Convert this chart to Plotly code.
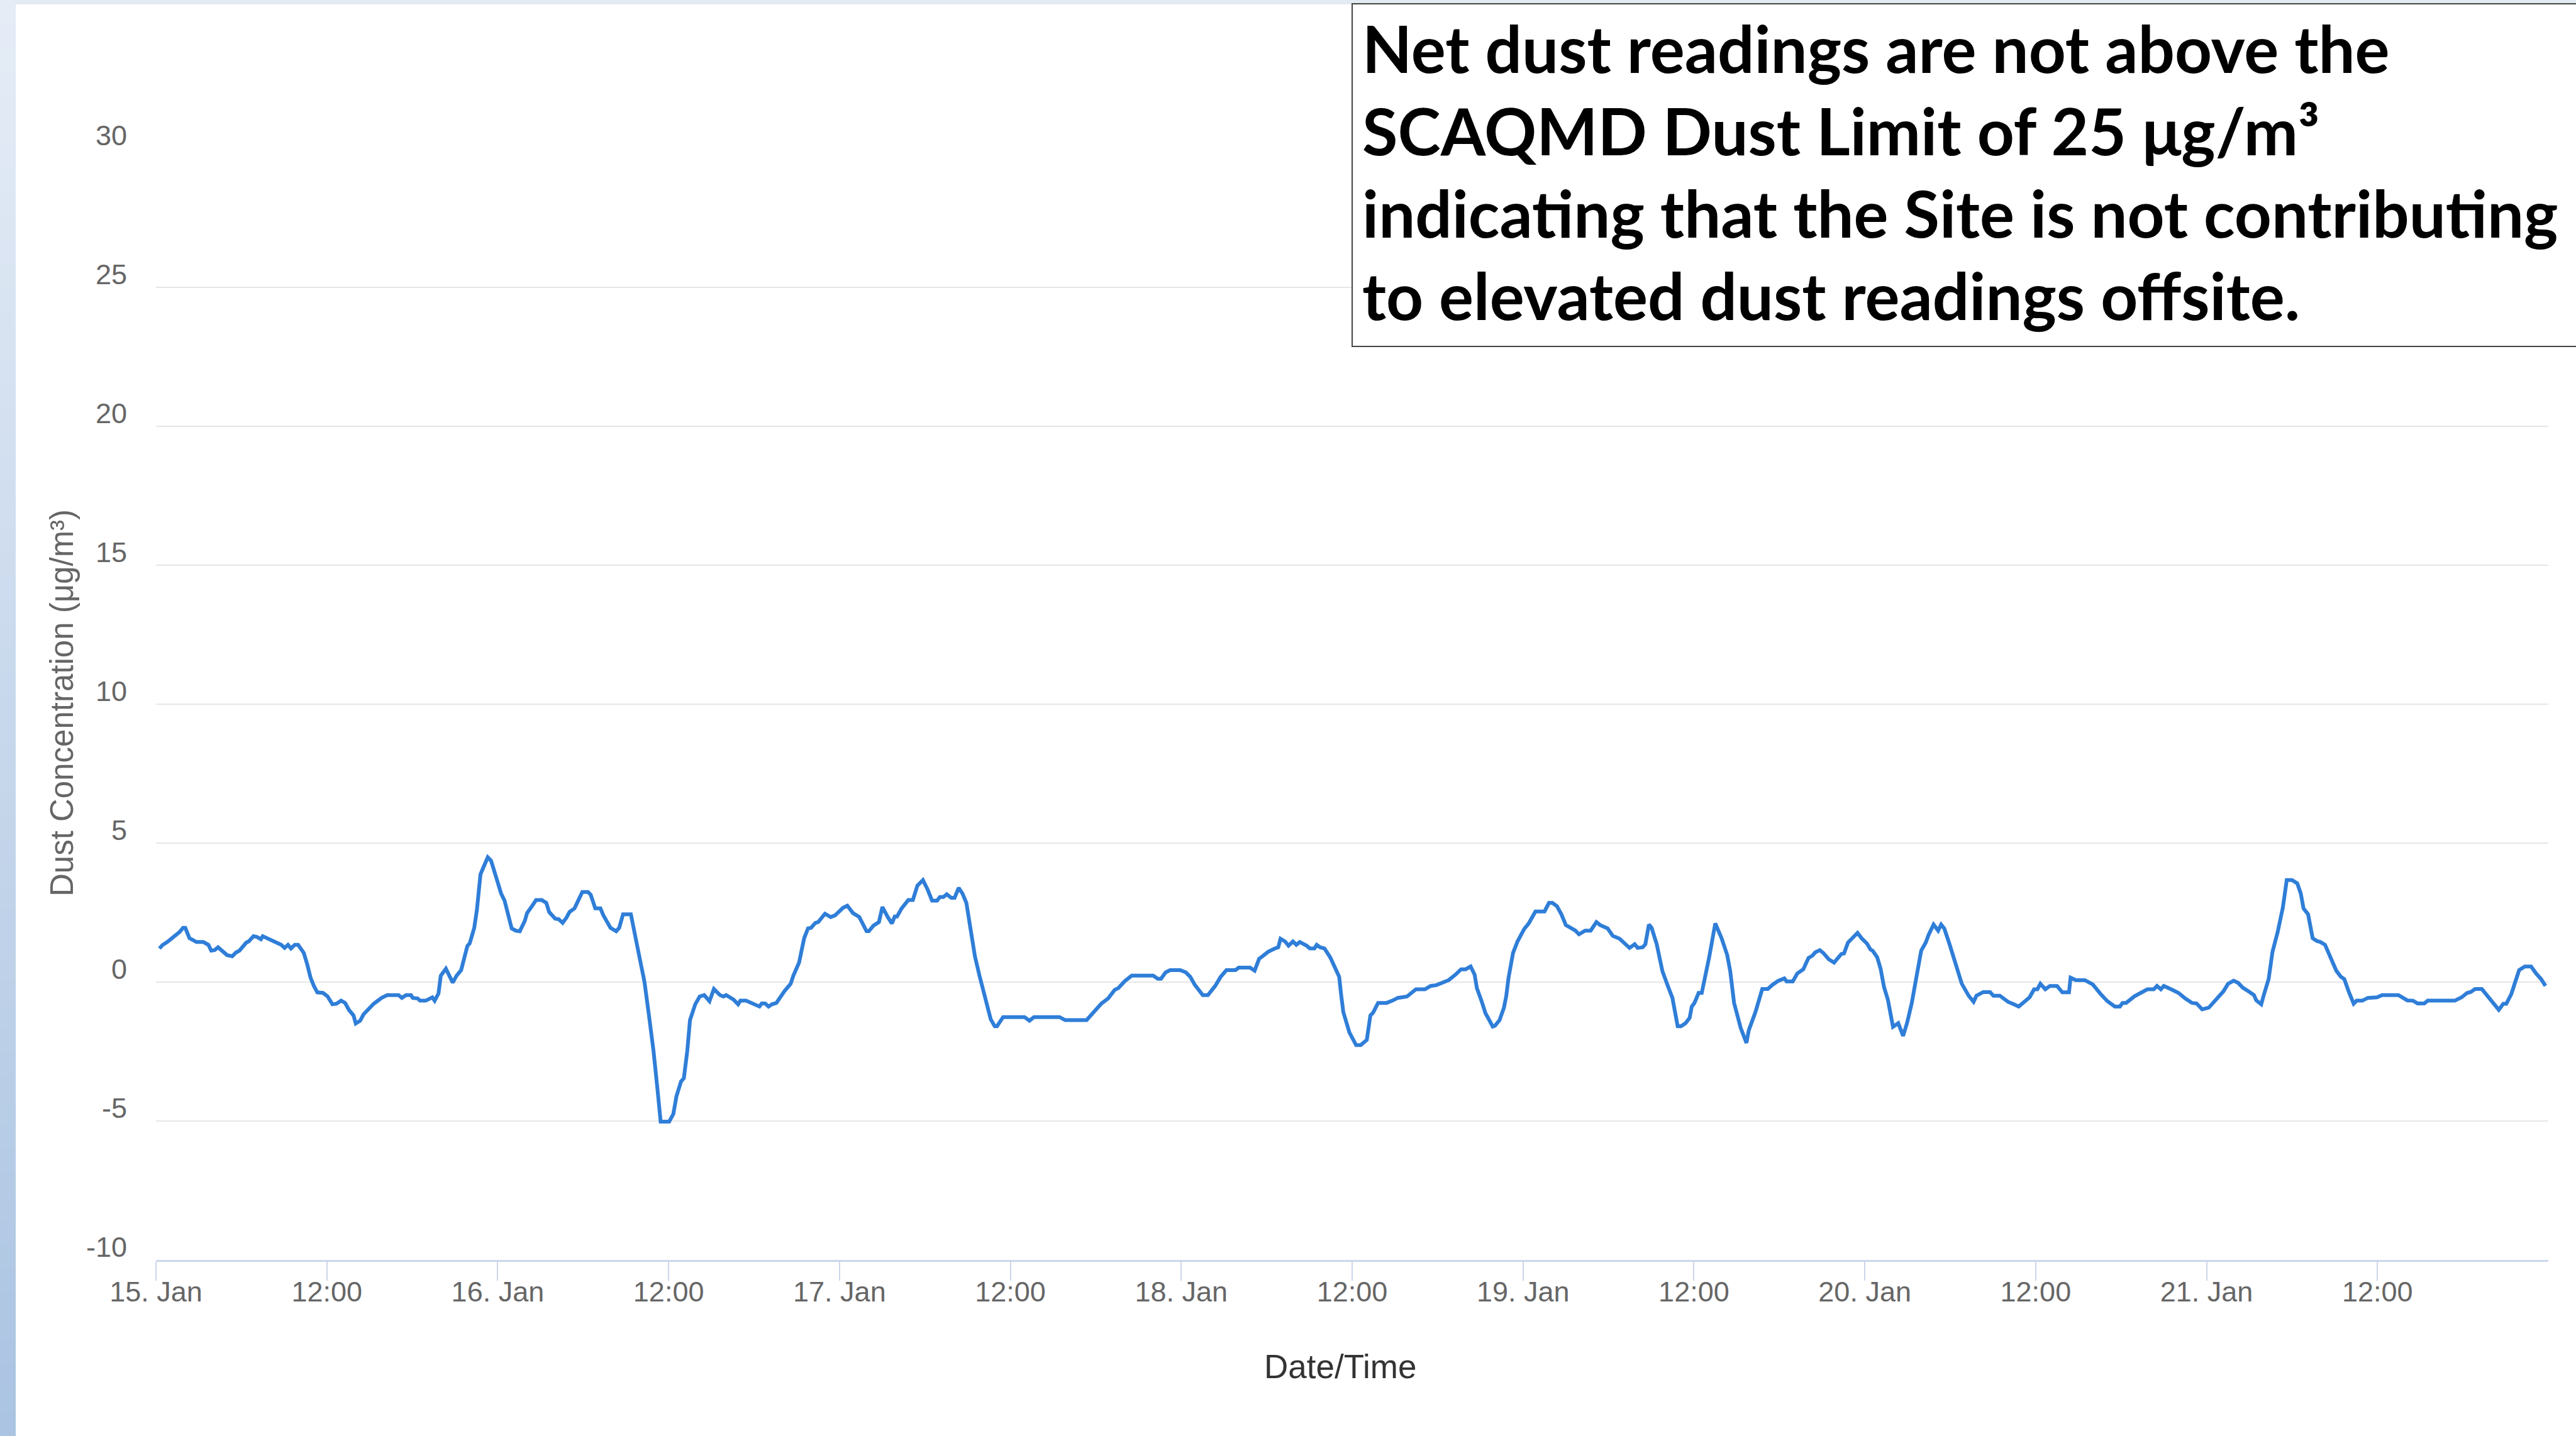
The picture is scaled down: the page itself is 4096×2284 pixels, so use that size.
import datetime as dt
import plotly.graph_objects as go

# ---------------- data (hours into each day, net dust value) ----------------
hours_15 = [0.24,0.48,0.79,1.11,1.39,1.66,1.90,2.06,2.35,2.61,2.85,3.33,3.68,3.88,4.12,4.36,4.60,4.99,5.36,5.63,
            5.86,6.34,6.50,6.85,7.10,7.37,7.50,7.77,8.09,8.48,8.80,9.03,9.27,9.48,9.75,9.98,10.38,10.62,10.86,11.09,
            11.33,11.73,12.04,12.39,12.68,13.00,13.28,13.55,13.87,14.03,14.34,14.58,14.98,15.29,15.53,15.85,16.24,17.04,17.27,17.56,
            17.91,18.03,18.38,18.54,18.94,19.41,19.57,19.84,20.00,20.36,20.84,21.11,21.43,21.63,21.87,22.03,22.35,22.54,22.79,23.30,
            23.53,23.85]
values_15 = [1.21,1.34,1.44,1.58,1.66,1.80,1.95,1.95,1.58,1.52,1.44,1.44,1.34,1.13,1.15,1.25,1.13,0.97,0.93,1.07,
             1.13,1.42,1.46,1.65,1.62,1.54,1.65,1.58,1.52,1.42,1.34,1.23,1.34,1.21,1.34,1.34,1.05,0.64,0.15,-0.14,
             -0.37,-0.39,-0.51,-0.80,-0.78,-0.67,-0.75,-1.00,-1.20,-1.49,-1.39,-1.16,-0.93,-0.78,-0.69,-0.57,-0.47,-0.47,-0.57,-0.47,
             -0.47,-0.57,-0.59,-0.67,-0.67,-0.55,-0.67,-0.41,0.23,0.48,-0.02,0.23,0.43,0.80,1.30,1.39,1.95,2.61,3.88,4.49,
             4.37,3.84]

hours_16 = [0.05,0.24,0.48,0.98,1.27,1.55,1.90,2.06,2.35,2.69,3.09,3.41,3.61,4.04,4.28,4.56,4.83,5.04,5.39,5.67,
            5.94,6.34,6.53,6.85,7.21,7.42,7.92,8.32,8.53,8.80,9.35,9.83,10.30,10.62,10.94,11.22,11.44,12.04,12.33,12.55,
            12.87,13.07,13.31,13.50,13.87,14.18,14.50,14.87,15.18,15.61,15.85,16.04,16.56,16.88,17.04,17.43,17.75,17.99,18.38,18.54,
            18.78,19.02,19.26,19.57,19.81,20.13,20.57,20.76,21.16,21.32,21.52,21.79,22.00,22.31,22.50,22.98,23.38,23.69]
values_16 = [3.50,3.18,2.93,1.93,1.85,1.83,2.20,2.48,2.69,2.95,2.95,2.85,2.52,2.28,2.26,2.13,2.32,2.52,2.65,2.93,
             3.24,3.24,3.14,2.65,2.65,2.40,1.95,1.83,1.95,2.44,2.44,1.21,0.02,-1.20,-2.48,-3.87,-5.02,-5.02,-4.75,-4.11,
             -3.58,-3.46,-2.48,-1.37,-0.80,-0.52,-0.47,-0.69,-0.25,-0.47,-0.52,-0.47,-0.63,-0.80,-0.67,-0.67,-0.74,-0.77,-0.88,-0.77,
             -0.77,-0.88,-0.80,-0.75,-0.55,-0.33,-0.06,0.23,0.70,1.13,1.58,1.93,1.95,2.13,2.16,2.46,2.34,2.40]

hours_17 = [0.24,0.55,0.95,1.39,1.90,2.06,2.38,2.77,3.01,3.41,3.68,3.88,4.04,4.36,4.83,5.15,5.47,5.86,6.18,6.50,
            6.85,7.05,7.29,7.53,7.85,8.08,8.37,8.64,8.91,9.19,9.51,9.83,10.06,10.38,10.62,10.90,11.06,11.49,12.99,13.34,
            13.66,15.45,15.85,17.35,17.75,18.38,18.86,19.33,19.57,20.05,20.52,22.03,22.35,22.58,22.90,23.22,23.93]
values_17 = [2.67,2.75,2.48,2.34,1.83,1.83,2.03,2.16,2.70,2.32,2.11,2.36,2.36,2.65,2.95,2.95,3.47,3.67,3.34,2.93,
             2.93,3.06,3.06,3.16,3.03,3.03,3.39,3.18,2.85,1.95,0.93,0.23,-0.26,-0.96,-1.34,-1.59,-1.59,-1.26,-1.26,-1.39,
             -1.26,-1.26,-1.37,-1.37,-1.15,-0.78,-0.59,-0.28,-0.22,0.04,0.23,0.23,0.12,0.12,0.35,0.43,0.43]

hours_18 = [0.32,0.63,0.95,1.51,1.87,2.38,2.77,3.17,3.80,4.04,4.83,5.15,5.47,5.71,6.10,6.58,6.81,6.97,7.29,7.53,
            7.84,8.08,8.32,8.80,9.03,9.35,9.51,9.75,10.06,10.46,10.86,11.09,11.22,11.38,11.81,12.28,12.60,13.03,13.28,13.47,
            13.82,14.42,14.82,15.21,15.85,16.16,16.48,17.11,17.51,17.91,18.30,18.78,19.26,19.65,19.97,20.32,20.60,20.76,21.08,21.36,
            21.63,21.87,22.03,22.35,22.66,22.82,22.98,23.30,23.61]
values_18 = [0.35,0.19,-0.10,-0.47,-0.47,-0.14,0.19,0.43,0.43,0.52,0.52,0.41,0.84,0.93,1.09,1.21,1.25,1.56,1.46,1.31,
             1.46,1.34,1.44,1.31,1.21,1.21,1.34,1.25,1.21,0.89,0.43,0.19,-0.43,-1.08,-1.82,-2.27,-2.27,-2.08,-1.20,-1.10,
             -0.75,-0.75,-0.67,-0.57,-0.52,-0.39,-0.26,-0.26,-0.14,-0.11,-0.02,0.07,0.27,0.46,0.46,0.56,0.27,-0.22,-0.67,-1.12,
             -1.37,-1.60,-1.57,-1.37,-0.92,-0.51,0.15,1.05,1.46]

hours_19 = [0.08,0.40,0.87,1.51,1.82,2.06,2.38,2.69,3.01,3.68,3.93,4.36,4.75,5.15,5.42,5.94,6.31,6.78,7.21,7.48,
            7.84,8.05,8.40,8.59,8.84,9.03,9.38,9.79,10.17,10.49,10.86,11.09,11.41,11.70,11.85,12.04,12.33,12.55,13.07,13.50,
            13.94,14.34,14.55,14.82,15.29,15.69,15.85,16.32,16.80,17.19,17.51,17.91,18.35,18.51,18.94,19.26,19.68,20.05,20.32,20.52,
            20.84,21.08,21.47,21.84,22.35,22.54,22.82,23.06,23.49,23.77]
values_19 = [1.91,2.11,2.54,2.54,2.85,2.85,2.73,2.44,2.05,1.85,1.72,1.85,1.85,2.16,2.05,1.93,1.66,1.56,1.34,1.23,
             1.36,1.23,1.25,1.36,2.07,1.95,1.38,0.39,-0.14,-0.57,-1.59,-1.59,-1.48,-1.29,-0.88,-0.75,-0.39,-0.39,0.89,2.11,
             1.58,0.97,0.39,-0.75,-1.66,-2.19,-1.74,-1.08,-0.25,-0.25,-0.10,0.04,0.13,0.02,0.02,0.31,0.46,0.87,0.95,1.07,
             1.15,1.05,0.82,0.70,1.01,1.03,1.42,1.56,1.77,1.58]

hours_20 = [0.16,0.40,0.55,0.87,1.11,1.35,1.62,1.98,2.35,2.69,2.98,3.30,3.61,3.96,4.28,4.48,4.83,5.15,5.36,5.58,
            5.94,6.34,6.81,7.29,7.64,7.84,8.32,8.80,9.03,9.48,10.06,10.46,10.81,11.25,11.57,11.89,12.12,12.33,12.68,13.00,
            13.50,13.87,14.34,14.45,14.82,15.45,16.00,16.56,17.04,17.56,17.91,18.10,18.35,18.94,19.41,19.84,20.29,20.52,20.79,21.00,
            21.47,22.03,22.50,22.98,23.30,23.69]
values_20 = [1.38,1.17,1.13,0.89,0.48,-0.18,-0.63,-1.61,-1.48,-1.94,-1.45,-0.75,0.19,1.13,1.42,1.70,2.07,1.85,2.07,1.93,
             1.38,0.68,-0.06,-0.49,-0.71,-0.49,-0.36,-0.36,-0.49,-0.49,-0.71,-0.80,-0.88,-0.69,-0.55,-0.26,-0.26,-0.06,-0.26,-0.14,
             -0.14,-0.37,-0.37,0.16,0.07,0.07,-0.08,-0.43,-0.69,-0.88,-0.88,-0.75,-0.75,-0.51,-0.37,-0.26,-0.26,-0.14,-0.26,-0.14,
             -0.25,-0.39,-0.59,-0.75,-0.77,-0.98]

hours_21 = [0.16,0.63,1.19,1.51,1.90,2.22,2.54,2.93,3.33,3.49,3.84,4.04,4.36,4.63,4.99,5.36,5.63,6.00,6.37,6.62,
            6.81,7.13,7.45,7.73,8.00,8.32,8.72,9.11,9.43,9.67,9.98,10.33,10.54,10.94,11.33,11.97,12.33,13.47,14.10,14.50,
            14.82,15.29,15.53,17.43,17.91,18.30,18.54,18.86,19.33,19.97,20.52,20.84,21.05,21.40,21.95,22.35,22.79,23.14,23.49,23.80]
values_21 = [-0.92,-0.67,-0.33,-0.06,0.05,-0.03,-0.20,-0.33,-0.47,-0.66,-0.80,-0.43,0.11,1.09,1.79,2.69,3.67,3.67,3.55,3.18,
             2.65,2.44,1.58,1.48,1.44,1.34,0.84,0.41,0.19,0.11,-0.34,-0.78,-0.67,-0.67,-0.57,-0.55,-0.47,-0.47,-0.66,-0.67,
             -0.77,-0.77,-0.67,-0.67,-0.55,-0.39,-0.36,-0.25,-0.25,-0.67,-1.00,-0.78,-0.78,-0.43,0.43,0.56,0.56,0.31,0.11,-0.14]

day_numbers = [15, 16, 17, 18, 19, 20, 21]
x_tick_labels = ["15. Jan", "12:00", "16. Jan", "12:00", "17. Jan", "12:00", "18. Jan", "12:00",
                 "19. Jan", "12:00", "20. Jan", "12:00", "21. Jan", "12:00"]
y_tick_values = [-10, -5, 0, 5, 10, 15, 20, 25, 30]
y_tick_labels = ["-10", "-5", "0", "5", "10", "15", "20", "25", "30"]

y_title = "Dust Concentration (μg/m³)"
x_title = "Date/Time"
note_lines = ["Net dust readings are not above the",
              "SCAQMD Dust Limit of 25 μg/m³",
              "indicating that the Site is not contributing",
              "to elevated dust readings offsite."]

# ---------------- build series ----------------
per_day = [(hours_15, values_15), (hours_16, values_16), (hours_17, values_17), (hours_18, values_18),
           (hours_19, values_19), (hours_20, values_20), (hours_21, values_21)]
times, vals = [], []
for d, (hs, vs) in zip(day_numbers, per_day):
    for h, v in zip(hs, vs):
        times.append(dt.datetime(2021, 1, d) + dt.timedelta(hours=h))
        vals.append(v)

t0 = dt.datetime(2021, 1, 15)
tick_times = [t0 + dt.timedelta(hours=12 * i) for i in range(len(x_tick_labels))]

# ---------------- geometry (px in 4096x2284) ----------------
W, H = 4096, 2284
L, R, T, B = 248, 44, 236, 280
PW, PH = W - L - R, H - T - B

def px(x):
    return (x - L) / PW

def py(y):
    return (H - B - y) / PH

fig = go.Figure()
fig.add_trace(go.Scatter(x=times, y=vals, mode="lines",
                         line=dict(color="#2f7ed8", width=6), hoverinfo="skip", showlegend=False))

shapes = []
# left gradient strip
n = 60
c_top = (229, 236, 246)
c_bot = (171, 196, 226)
for i in range(n):
    f = i / (n - 1)
    col = tuple(round(c_top[k] + (c_bot[k] - c_top[k]) * f) for k in range(3))
    shapes.append(dict(type="rect", xref="paper", yref="paper",
                       x0=px(-2), x1=px(25), y0=py(H * (i + 1) / n + 1), y1=py(H * i / n),
                       fillcolor="rgb(%d,%d,%d)" % col, line=dict(width=0), layer="above"))
# top band
shapes.append(dict(type="rect", xref="paper", yref="paper", x0=px(25), x1=px(W + 5), y0=py(7), y1=py(-2),
                   fillcolor="#e3eaf4", line=dict(width=0), layer="above"))
# text box
shapes.append(dict(type="rect", xref="paper", yref="paper", x0=px(2150), x1=px(W + 20), y0=py(551), y1=py(6),
                   fillcolor="white", line=dict(color="#444444", width=2), layer="above"))

annotations = []
annotations.append(dict(text=y_title, xref="paper", yref="paper", x=px(98), y=py(1118), textangle=-90,
                        showarrow=False, xanchor="center", yanchor="middle",
                        font=dict(family="Liberation Sans, Arial, sans-serif", size=51, color="#666666")))
annotations.append(dict(text=x_title, xref="paper", yref="paper", x=px(2131), y=py(2173),
                        showarrow=False, xanchor="center", yanchor="middle",
                        font=dict(family="Liberation Sans, Arial, sans-serif", size=53, color="#333333")))
line_centers = [76, 207, 338, 469]
for txt, yc in zip(note_lines, line_centers):
    annotations.append(dict(text="<b>%s</b>" % txt, xref="paper", yref="paper", x=px(2164), y=py(yc),
                            showarrow=False, xanchor="left", yanchor="middle",
                            font=dict(family="Lato, sans-serif", size=103, color="#000000")))

fig.update_layout(
    width=W, height=H,
    margin=dict(l=L, r=R, t=T, b=B, pad=0),
    paper_bgcolor="white", plot_bgcolor="white",
    showlegend=False,
    shapes=shapes, annotations=annotations,
    xaxis=dict(type="date", range=[t0, t0 + dt.timedelta(days=7)],
               tickmode="array", tickvals=tick_times, ticktext=x_tick_labels,
               ticks="outside", ticklen=30, tickwidth=2, tickcolor="#ccd6eb",
               showline=True, linecolor="#ccd6eb", linewidth=3,
               showgrid=False, zeroline=False, ticklabelstandoff=-21,
               tickfont=dict(family="Liberation Sans, Arial, sans-serif", size=45, color="#666666")),
    yaxis=dict(range=[-10, 30], tickmode="array", tickvals=y_tick_values, ticktext=y_tick_labels,
               showgrid=True, gridcolor="#e6e6e6", gridwidth=2, zeroline=False, showline=False,
               ticks="", ticklabelstandoff=45, ticklabelshift=-21,
               tickfont=dict(family="Liberation Sans, Arial, sans-serif", size=45, color="#666666")),
)

fig.write_html("out.html", config={"displayModeBar": False},
               post_script="document.body.style.margin='0';document.body.style.padding='0';")
